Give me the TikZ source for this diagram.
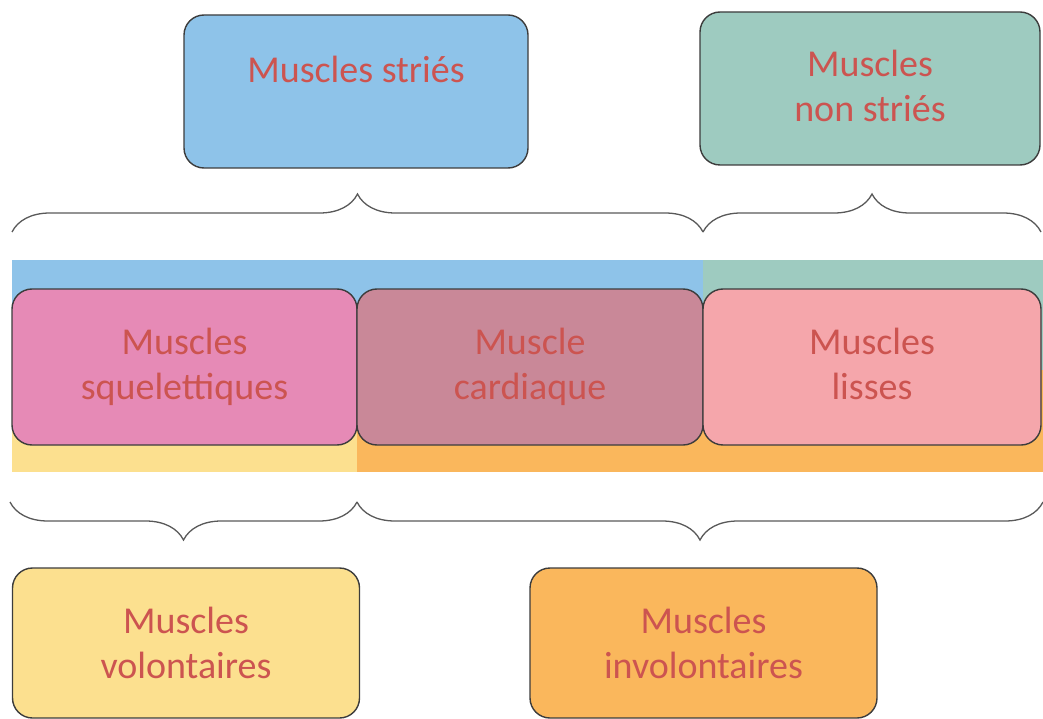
\documentclass[tikz,border=0pt]{standalone}
\usepackage{fontspec}
\setmainfont{Carlito}
\usepackage{tikz}
\usetikzlibrary{decorations.pathreplacing}

\definecolor{txtred}{HTML}{CC5450}
\definecolor{boxline}{HTML}{3C3C3C}
\definecolor{bluestrie}{HTML}{8EC3E9}
\definecolor{greenlisse}{HTML}{9ECBC0}
\definecolor{pinksq}{HTML}{E68AB6}
\definecolor{mauvecard}{HTML}{C98898}
\definecolor{salmonlis}{HTML}{F5A6AB}
\definecolor{yellowvol}{HTML}{FCE08F}
\definecolor{orangeinv}{HTML}{FAB75C}

\tikzset{
  musclebox/.style={draw=boxline, line width=1.4pt, rounded corners=20pt,
    align=center, text=txtred, inner sep=0pt,
    font=\fontsize{38}{45}\selectfont},
  bracelink/.style={draw=black!65, line width=1.3pt, decorate,
    decoration={brace, amplitude=38pt}}
}

\begin{document}
\begin{tikzpicture}[x=1pt,y=-1pt]
\useasboundingbox (0,0) rectangle (1043,719);

% Colour band behind the middle row
\fill[bluestrie]  (12,260) rectangle (703,370);
\fill[greenlisse] (703,260) rectangle (1043,370);
\fill[yellowvol]  (12,370) rectangle (357,472);
\fill[orangeinv]  (357,370) rectangle (1043,472);

% Top row
\node[musclebox, fill=bluestrie, minimum width=344pt, minimum height=153pt]
  (stries) at (356,91.5) {Muscles striés\\\mbox{}};
\node[musclebox, fill=greenlisse, minimum width=340pt, minimum height=153pt]
  (nonstries) at (870,88.5) {Muscles\\non striés\vphantom{q}};

% Middle row
\node[musclebox, fill=pinksq, minimum width=345pt, minimum height=156pt]
  (squel) at (184.5,367) {Muscles\\squelettiques};
\node[musclebox, fill=mauvecard, minimum width=346pt, minimum height=156pt]
  (cardiaque) at (530,367) {Muscle\\cardiaque};
\node[musclebox, fill=salmonlis, minimum width=338pt, minimum height=156pt]
  (lisses) at (872,367) {Muscles\\lisses\vphantom{q}};

% Bottom row
\node[musclebox, fill=yellowvol, minimum width=347pt, minimum height=150pt]
  (volont) at (186,643) {Muscles\\volontaires};
\node[musclebox, fill=orangeinv, minimum width=347pt, minimum height=150pt]
  (involont) at (703.5,643) {Muscles\\involontaires};

% Braces
\coordinate (tA) at (12,232);
\coordinate (tB) at (703,232);
\coordinate (tC) at (1041,232);
\coordinate (bA) at (10,502);
\coordinate (bB) at (357,502);
\coordinate (bC) at (1043,502);

\draw[bracelink] (tA) -- (tB);
\draw[bracelink] (tB) -- (tC);
\draw[bracelink, decoration={mirror}] (bA) -- (bB);
\draw[bracelink, decoration={mirror}] (bB) -- (bC);

\end{tikzpicture}
\end{document}
